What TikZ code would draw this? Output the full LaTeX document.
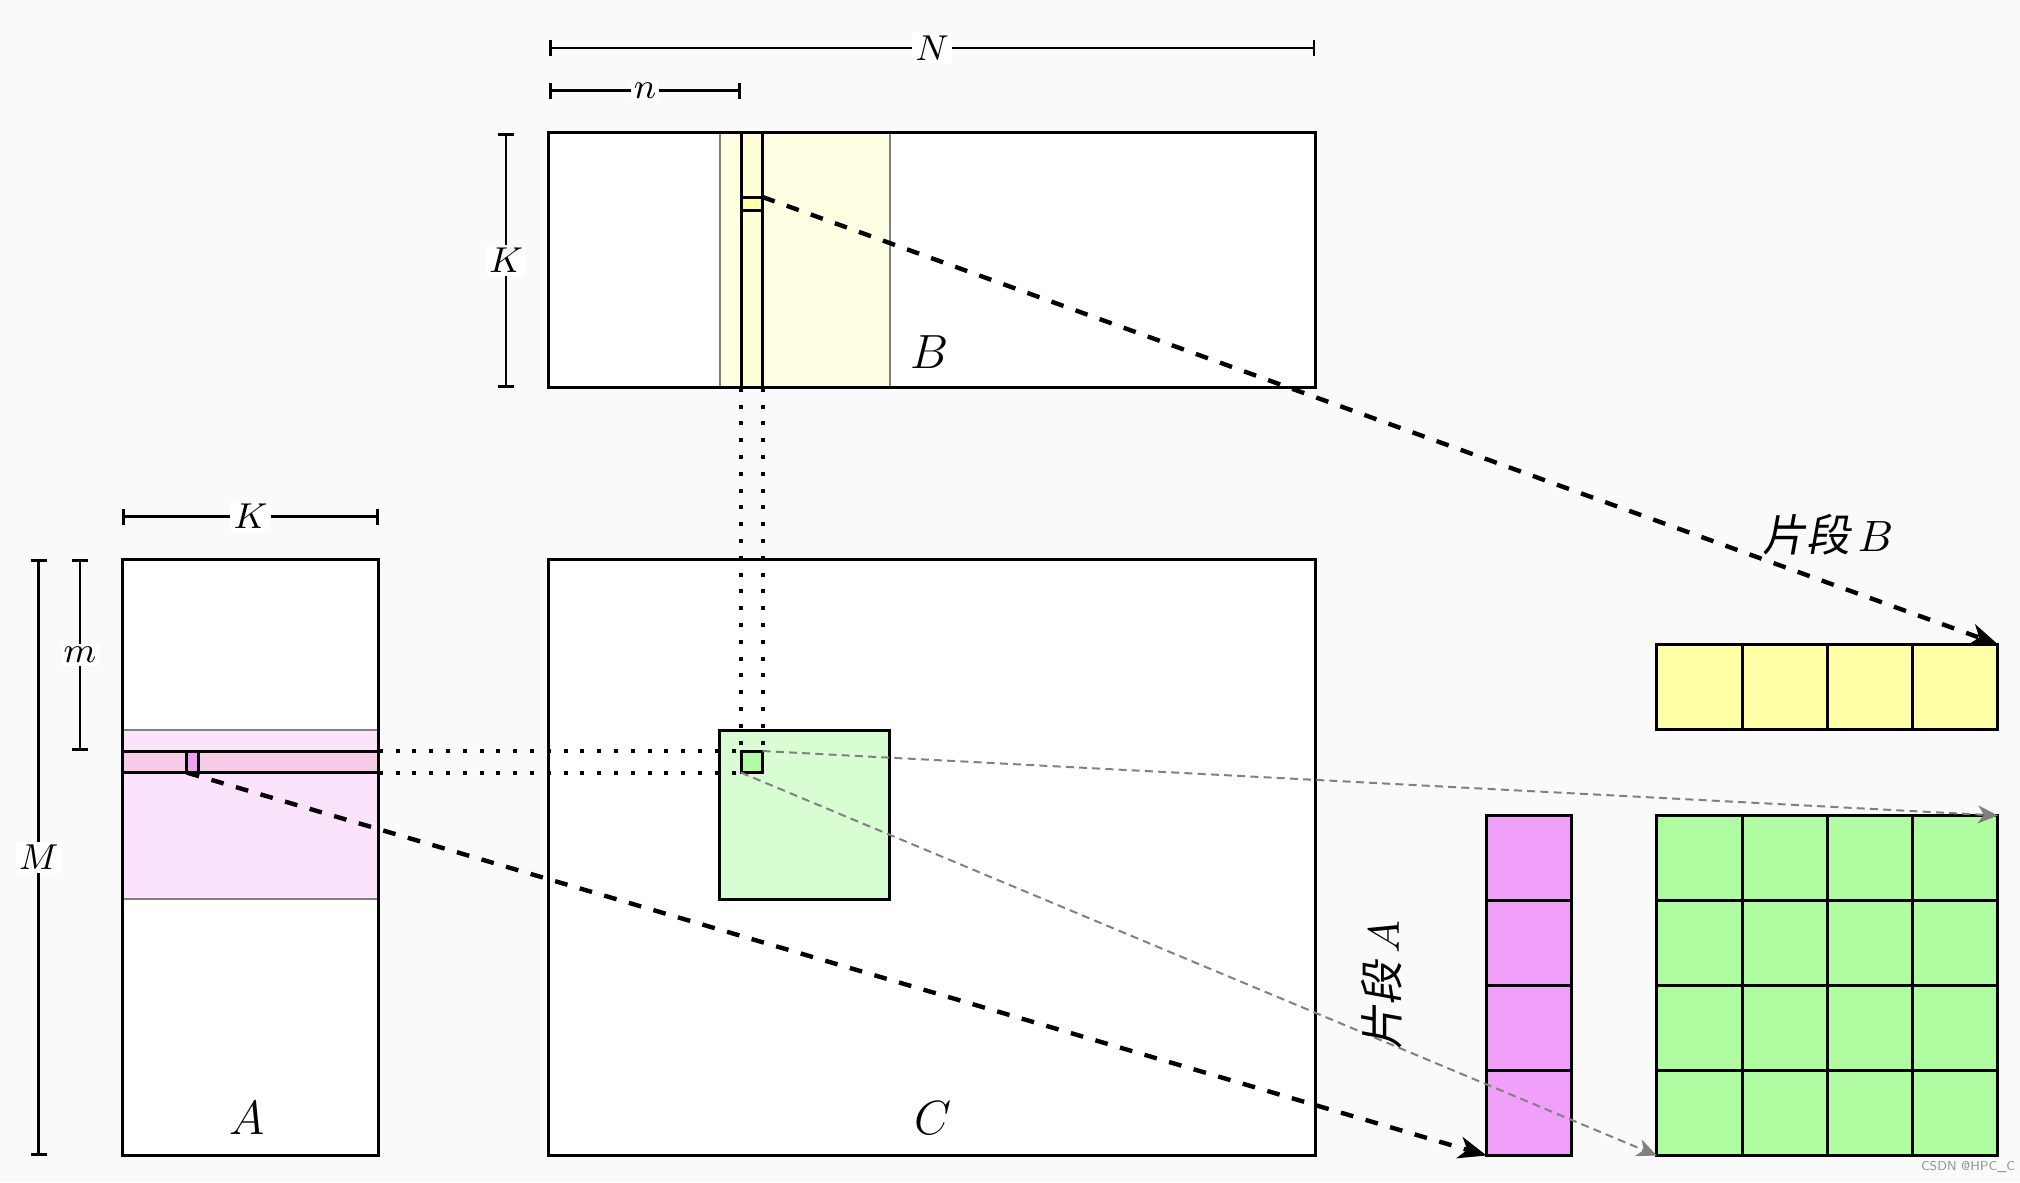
\documentclass[tikz,border=0pt]{standalone}
\usepackage{fontspec}
\newfontfamily\cjk[FakeSlant=0.18]{Noto Sans CJK SC}
\usetikzlibrary{arrows.meta,fit}
\definecolor{bg}{HTML}{FAFAFA}
\definecolor{bandY}{HTML}{FFFFE4}
\definecolor{colY}{HTML}{FFFDD6}
\definecolor{sqY}{HTML}{FFFFA6}
\definecolor{bandP}{HTML}{FBE4FB}
\definecolor{rowP}{HTML}{F8CCE6}
\definecolor{sqP}{HTML}{F0A0F4}
\definecolor{blockG}{HTML}{D8FDD2}
\definecolor{sqG}{HTML}{B4FCA4}
\definecolor{cellY}{HTML}{FFFFA8}
\definecolor{cellP}{HTML}{F0A0F8}
\definecolor{cellG}{HTML}{B0FCA0}
\begin{document}
\begin{tikzpicture}[x=0.25pt,y=-0.25pt,
  box/.style={draw, line width=0.75pt, inner sep=0pt, outer sep=0pt},
  band/.style={draw=gray, line width=0.5pt, inner sep=0pt, outer sep=0pt},
  dim/.style={line width=0.7pt, {Bar[width=4pt]}-{Bar[width=4pt]}},
  dimlab/.style={fill=white, inner sep=0.8pt, font=\fontsize{9}{10}\selectfont},
  matlab/.style={font=\fontsize{13}{15}\selectfont},
  dotl/.style={line width=1pt, dash pattern=on 1pt off 3.2pt},
  bigarrow/.style={line width=1.1pt, dash pattern=on 3.2pt off 3.2pt, -{Stealth[length=7pt,width=5.5pt,inset=2pt]}},
  grayarrow/.style={draw=gray, line width=0.5pt, dash pattern=on 2pt off 1.3pt, -{Stealth[length=5pt,width=4.5pt,inset=1.5pt,fill=gray]}},
  seglab/.style={font=\fontsize{11}{12}\selectfont, inner sep=0pt}
]
\useasboundingbox (0,0) rectangle (2020,1182);
\fill[bg] (0,0) rectangle (2020,1182);

% dimension lines
\draw[dim] (548.8,48) -- node[dimlab] (labN) {$N$} (1315.3,48);
\draw[dim] (548.8,90.5) -- node[dimlab] (labn) {$n$} (741,90.5);
\draw[dim] (506,132.7) -- node[dimlab] (labKB) {$K$} (506,387.8);
\draw[dim] (122.4,516.6) -- node[dimlab] (labKA) {$K$} (378.8,516.6);
\draw[dim] (38.6,559.1) -- node[dimlab] (labM) {$M$} (38.6,1155.6);
\draw[dim] (80,559.1) -- node[dimlab] (labm) {$m$} (80,751);

% matrix B
\node[box, fill=white, fit={(548.8,132.7) (1315.3,387.8)}] (B) {};
\node[band, fill=bandY, fit={(719.5,132.7) (889.5,387.8)}] (Bband) {};
\node[box, fill=colY, fit={(741,132.7) (762.6,387.8)}] (Bcol) {};
\node[box, fill=sqY, fit={(741,197) (762.6,210)}] (Bsq) {};
\draw[line width=0.75pt] (B.north west) rectangle (B.south east);
\node[matlab] (labB) at (930,352) {$B$};

% matrix A
\node[box, fill=white, fit={(122.4,559.1) (378.8,1155.6)}] (A) {};
\node[band, fill=bandP, fit={(122.4,729.5) (378.8,899.3)}] (Aband) {};
\node[box, fill=rowP, fit={(122.4,751) (378.8,772.6)}] (Arow) {};
\node[box, fill=sqP, fit={(186.8,751) (198.4,772.6)}] (Asq) {};
\draw[line width=0.75pt] (A.north west) rectangle (A.south east);
\node[matlab] (labA) at (247,1118) {$A$};

% matrix C
\node[box, fill=white, fit={(548.8,559.1) (1315.3,1155.6)}] (C) {};
\node[box, fill=blockG, fit={(719.5,730.2) (889.5,899.3)}] (Cblock) {};
\node[box, fill=sqG, fit={(741,751) (762.6,772.6)}] (Csq) {};
\node[matlab] (labC) at (933,1118) {$C$};

% dotted guide lines
\draw[dotl] (Arow.north east) -- (Csq.north west);
\draw[dotl] (Arow.south east) -- (Csq.south west);
\draw[dotl] (Bcol.south west) -- (Csq.north west);
\draw[dotl] (Bcol.south east) -- (Csq.north east);

% fragment B (yellow strip)
\foreach \j in {0,...,3}{
  \node[box, fill=cellY, fit={({1656.7+85.3*\j},644.3) ({1656.7+85.3*(\j+1)},729.3)}] (Y\j) {};
}
% fragment A (pink column)
\foreach \i in {0,...,3}{
  \node[box, fill=cellP, fit={(1486.5,{815.5+85*\i}) (1571.8,{815.5+85*(\i+1)})}] (P\i) {};
}
% accumulator C (green grid)
\foreach \i in {0,...,3}{
  \foreach \j in {0,...,3}{
    \node[box, fill=cellG, fit={({1656.7+85.3*\j},{815.5+85*\i}) ({1656.7+85.3*(\j+1)},{815.5+85*(\i+1)})}] (G\i\j) {};
  }
}

% arrows
\draw[bigarrow] (Bsq.north east) -- (Y3.north east);
\draw[bigarrow] (Asq.south west) -- (P3.south west);
\draw[grayarrow] (Csq.north east) -- (G03.north east);
\draw[grayarrow] (Csq.south west) -- (G30.south west);

% labels
\node[seglab] (segB) at (1828,535) {{\cjk 片段}\,$B$};
\node[seglab, rotate=90] (segA) at (1382,985) {{\cjk 片段}\,$A$};
\node[font=\sffamily\fontsize{3.2}{4}\selectfont, text=gray!85, inner sep=0pt] (wm) at (1968,1167) {CSDN @HPC\_C};
\end{tikzpicture}
\end{document}
